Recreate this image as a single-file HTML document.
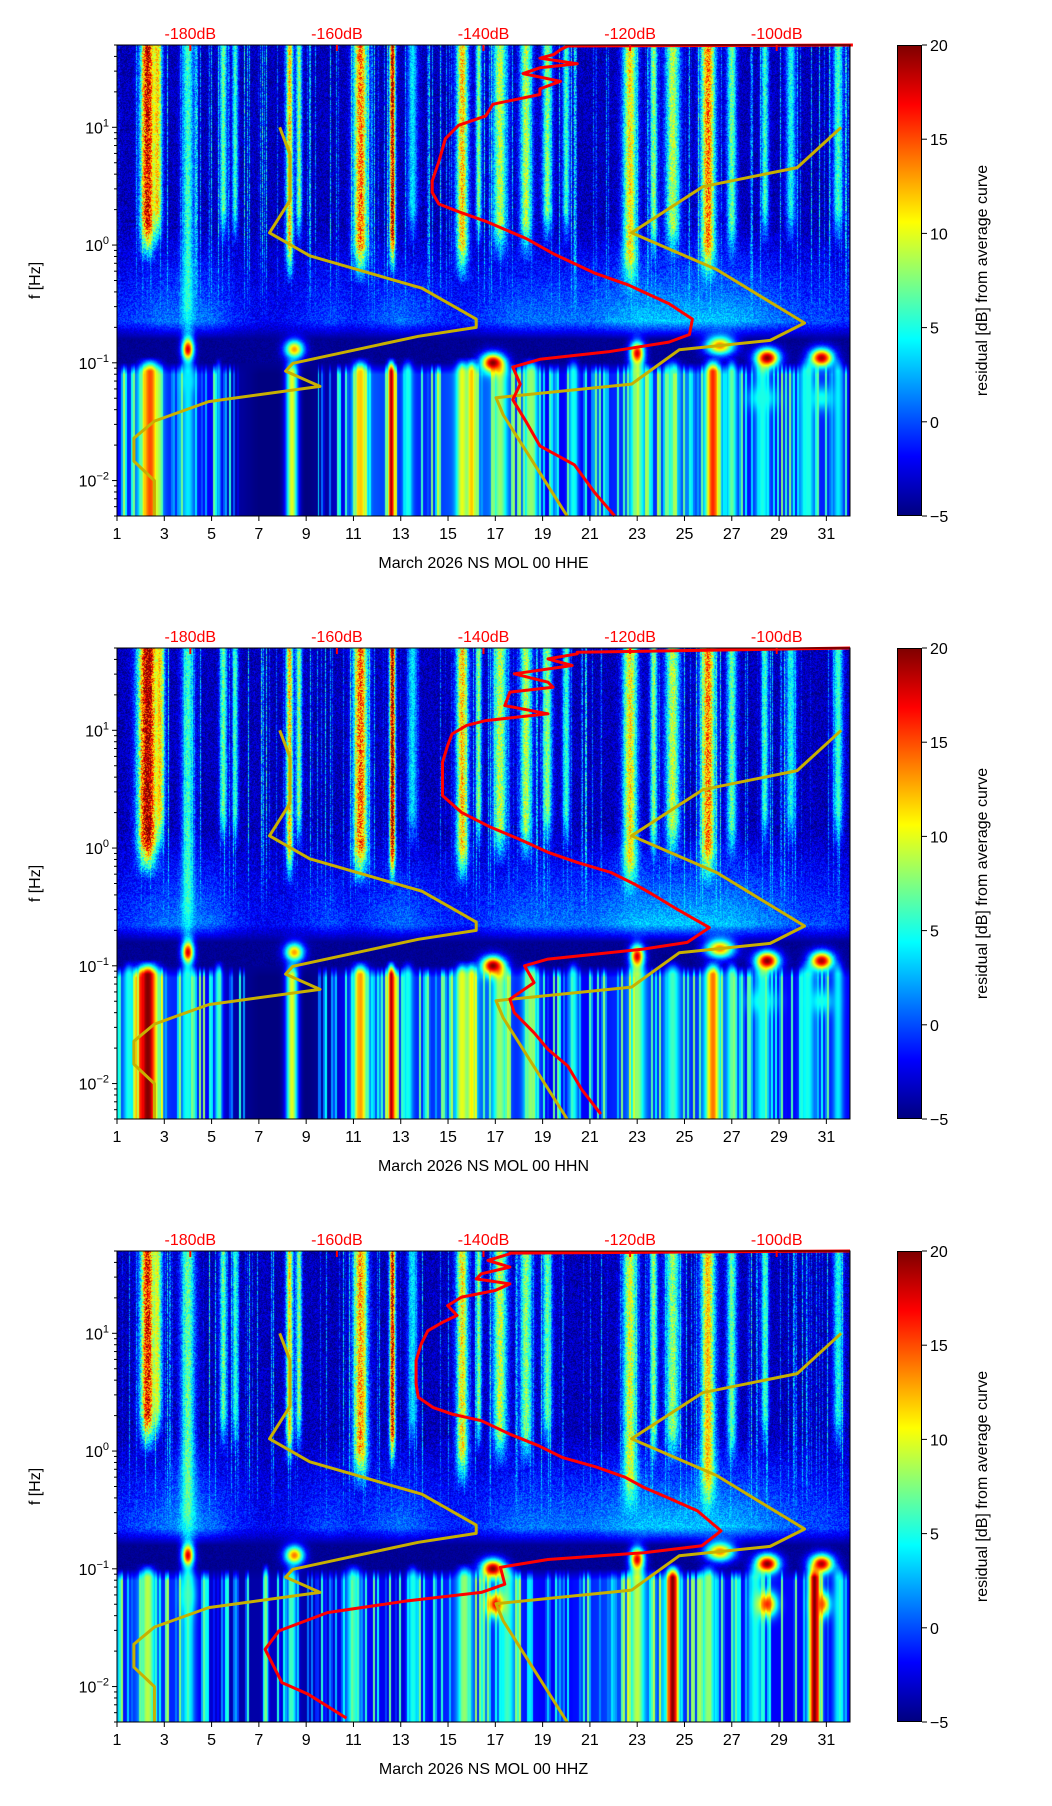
<!DOCTYPE html>
<html><head><meta charset="utf-8">
<style>
html,body{margin:0;padding:0;background:#fff;}
#root{position:relative;width:1052px;height:1806px;overflow:hidden;font-family:"Liberation Sans",sans-serif;}
canvas{position:absolute;}
.cbar{position:absolute;width:25px;height:471px;background:linear-gradient(to bottom,#800000 0%,#ff0000 12.5%,#ffff00 37.5%,#00ffff 62.5%,#0000ff 87.5%,#000080 100%);box-sizing:border-box;border:1px solid #000;}
svg{position:absolute;left:0;top:0;}
</style></head>
<body>
<div id="root">
<canvas id="c0" width="733" height="471" style="left:117px;top:45px"></canvas>
<canvas id="c1" width="733" height="471" style="left:117px;top:648px"></canvas>
<canvas id="c2" width="733" height="471" style="left:117px;top:1251px"></canvas>
<div class="cbar" style="left:897px;top:45px"></div>
<div class="cbar" style="left:897px;top:648px"></div>
<div class="cbar" style="left:897px;top:1251px"></div>
<svg id="ov" width="1052" height="1806"></svg>
</div>
<script>
// ---- data ----
const dayTicks=[1,3,5,7,9,11,13,15,17,19,21,23,25,27,29,31];
const dbTicks=[-180,-160,-140,-120,-100];
const cbTicks=[20,15,10,5,0,-5];
const channels=["HHE","HHN","HHZ"];
const nlnmF=[10,5.9,2.4,1.27,0.81,0.43,0.235,0.2,0.168,0.099,0.085,0.063,0.0468,0.032,0.0229,0.0146,0.01,0.005];
const nlnmDb=[-167.8,-166.4,-166.4,-169.2,-163.7,-148.4,-141,-141,-148.9,-166,-167,-162.3,-177.5,-184.9,-187.7,-187.7,-184.9,-184.9];
const nhnmF=[10,4.55,3.13,1.27,0.62,0.218,0.155,0.129,0.066,0.0505,0.036,0.005];
const nhnmDb=[-91.2,-97.2,-110.1,-119.8,-108.2,-96.2,-100.9,-113.3,-119.8,-138.3,-137.3,-128.6];
const red0F=[50,49,45.7,41.5,38.6,34.7,32,28.6,24.6,21.2,19,15.7,12.5,10.4,8,5.1,3.5,2.8,2.23,1.92,1.59,1.13,0.84,0.58,0.46,0.318,0.235,0.174,0.15,0.124,0.107,0.092,0.066,0.0486,0.031,0.0197,0.0136,0.008,0.005];
const red0Db=[-89.6,-128.5,-129.5,-130.4,-132.3,-127.2,-132.3,-134.6,-129.5,-132.3,-132.3,-138.7,-139.7,-143.4,-145.2,-146.1,-147,-147,-146.1,-143.4,-139.7,-134.1,-130.4,-124.9,-120.3,-114.7,-111.5,-111.9,-114.7,-123,-132.3,-136,-135,-136,-134.1,-132.3,-127.6,-124.9,-122.1];
const red1F=[50,46,44.6,40.4,35.5,30.2,25.6,23.2,21.1,16.2,13.8,12.1,11,9.3,7.4,5.35,3.86,2.79,2.01,1.5,1.19,0.92,0.755,0.62,0.494,0.42,0.3,0.211,0.158,0.139,0.114,0.1,0.072,0.052,0.04,0.027,0.0195,0.0141,0.0089,0.0055];
const red1Db=[-90,-127.2,-127.2,-131.2,-127.9,-135.8,-131.2,-130.5,-136.4,-137.1,-131.2,-139.7,-142.3,-144.3,-144.9,-145.6,-145.6,-145.6,-143,-139,-135.1,-131.2,-127.2,-122.6,-119.4,-117.4,-113.5,-109.2,-112.2,-118.1,-131.2,-134.4,-133.1,-136.4,-135.8,-133.1,-131.2,-128.5,-126.6,-124];
const red2F=[50,48,47.3,41.6,36.5,32,29,26.3,23.1,20.3,17.2,14.2,12.4,10.5,8.1,5.86,3.71,2.86,2.35,2.06,1.81,1.39,1.11,0.88,0.73,0.6,0.49,0.4,0.31,0.21,0.157,0.137,0.12,0.103,0.074,0.063,0.053,0.0425,0.0297,0.0207,0.0108,0.0086,0.0054];
const red2Db=[-90,-136.4,-136.4,-139.4,-136.4,-140.3,-141,-136.4,-138.4,-143,-144.9,-143.6,-145.6,-147.6,-148.5,-149.2,-149.2,-148.9,-146.9,-144.3,-140.3,-136.4,-132.5,-129.2,-124.6,-120.7,-118.1,-114.8,-110.8,-107.6,-110.2,-118.1,-131.2,-137.7,-137.1,-140.3,-150.8,-161.3,-167.9,-169.8,-167.5,-163.9,-158.7];
// spectrogram features: hf stripes [day,width,value,cutHz]
const hf0=[[2.3,0.3,18,1.5],[2.7,0.2,12,2],[4.0,0.25,6,0.3],[5.5,0.15,7,2],[6.0,0.12,6,2],[8.3,0.15,12,1],[8.7,0.12,8,2],[11.3,0.3,14,1],[12.65,0.12,19,1.2],[13.5,0.2,4,2],[15.6,0.25,12,1],[16.3,0.12,8,2],[17.2,0.3,9,1.5],[18.3,0.25,9,1.5],[19.2,0.2,8,2],[20.0,0.15,6,2],[22.7,0.3,11,0.8],[23.7,0.15,8,1.5],[24.5,0.3,9,1.5],[26.0,0.3,14,1.0],[27.0,0.2,7,1.5],[28.4,0.15,6,2],[29.5,0.2,5,2],[31.5,0.2,6,2]];
const hf1=[[2.3,0.4,20,1.2],[2.8,0.2,12,2],[4.0,0.25,6,0.3],[5.5,0.15,7,2],[6.0,0.12,6,2],[8.3,0.15,12,1],[8.7,0.12,8,2],[11.3,0.3,15,1],[12.65,0.12,20,1],[13.5,0.2,4,2],[15.6,0.25,12,1],[16.3,0.12,8,2],[17.2,0.3,9,1.5],[18.3,0.25,9,1.5],[19.2,0.2,8,2],[20.0,0.15,6,2],[22.7,0.3,11,0.8],[23.7,0.15,8,1.5],[24.5,0.3,9,1.5],[26.0,0.3,14,1.0],[27.0,0.2,7,1.5],[28.4,0.15,6,2],[29.5,0.2,5,2],[31.5,0.2,6,2]];
const hf2=[[2.3,0.3,17,2],[2.7,0.2,10,2.5],[4.0,0.3,7,0.3],[5.5,0.15,7,2],[6.0,0.12,6,2],[8.3,0.15,11,1.5],[8.7,0.12,8,2],[11.3,0.3,13,1],[12.65,0.12,18,1.5],[13.5,0.2,4,2],[15.6,0.25,11,1],[16.3,0.12,8,2],[17.2,0.3,9,1.5],[18.3,0.25,8,1.5],[19.2,0.2,7,2],[22.7,0.3,10,0.6],[23.7,0.15,8,1.5],[24.5,0.3,8,1.5],[26.0,0.3,12,0.6],[27.0,0.2,7,1.5],[28.4,0.15,6,2],[31.5,0.2,5,2]];
// lf stripes [day,width,value]
const lf0=[[2.4,0.4,15],[4.0,0.25,4],[5.3,0.1,3],[8.4,0.25,10],[11.3,0.3,12],[12.6,0.15,19],[13.3,0.2,5],[15.6,0.25,10],[16.0,0.2,12],[17.2,0.3,8],[18.5,0.3,8],[20.3,0.2,5],[23.0,0.3,8],[24.5,0.3,6],[26.2,0.3,16],[27.0,0.2,7],[28.3,0.3,5],[30.2,0.3,5],[31.5,0.2,4]];
const lf1=[[2.3,0.45,20],[1.5,0.2,5],[4.0,0.25,5],[5.3,0.15,6],[8.4,0.25,10],[11.3,0.3,13],[12.6,0.15,19],[13.3,0.2,5],[15.6,0.25,10],[16.0,0.2,11],[17.2,0.3,8],[18.5,0.3,8],[20.3,0.2,5],[23.0,0.3,8],[24.5,0.3,6],[26.2,0.3,14],[27.0,0.2,7],[28.3,0.3,5],[30.2,0.3,5],[31.5,0.2,4]];
const lf2=[[2.3,0.3,9],[4.0,0.25,5],[7.3,0.1,8],[8.4,0.2,6],[11.0,0.3,6],[13.5,0.2,5],[15.7,0.3,8],[17.5,0.3,6],[23.0,0.3,9],[24.5,0.25,20],[26.0,0.3,8],[28.0,0.3,5],[30.5,0.25,20],[31.5,0.2,4]];
// blobs [day,freqHz,value,dayWidth,decadeHeight]
const bl0=[[4.0,0.13,18,0.25,0.1],[8.5,0.13,13,0.4,0.08],[16.9,0.1,20,0.5,0.08],[23.0,0.12,18,0.3,0.1],[26.5,0.14,14,0.6,0.08],[28.5,0.11,20,0.5,0.08],[30.8,0.11,19,0.5,0.08],[28.3,0.05,5,0.6,0.1],[30.8,0.05,5,0.5,0.1],[4.0,0.07,4,0.3,0.1]];
const bl1=[[4.0,0.13,18,0.25,0.1],[8.5,0.13,13,0.4,0.08],[16.9,0.1,20,0.5,0.08],[23.0,0.12,18,0.3,0.1],[26.5,0.14,14,0.6,0.08],[28.5,0.11,20,0.5,0.08],[30.8,0.11,19,0.5,0.08],[28.3,0.05,5,0.6,0.1],[30.8,0.05,5,0.5,0.1]];
const bl2=[[4.0,0.13,18,0.25,0.1],[8.5,0.13,14,0.4,0.08],[16.9,0.1,20,0.5,0.08],[23.0,0.12,18,0.3,0.1],[26.5,0.14,14,0.6,0.08],[28.5,0.11,20,0.5,0.08],[30.8,0.11,19,0.5,0.08],[17.0,0.05,17,0.35,0.1],[28.5,0.05,16,0.4,0.1],[30.8,0.05,15,0.35,0.1],[4.0,0.06,6,0.3,0.15]];
// mid band (0.2-1.5 Hz) level per day 1..32
const mid0=[1,2,3,3,3,1,0,0,1,2,1,2,3,2,1,1,2,3,3,3,3,4,5,5,5,5,5,4,3,2,2,1];
const mid1=[1,2,3,3,3,1,0,0,1,2,1,2,3,2,1,1,2,3,3,3,3,4,5,5,5,5,5,4,3,2,2,1];
const mid2=[1,2,3,4,3,1,0,0,1,2,1,2,3,2,1,1,2,3,3,3,3,4,5,5,5,5,5,4,3,2,2,1];
// low band background level per day 1..32
const low0=[-2,0,-1,-1,-2,-4,-5,-5,-5,-4,-1,0,-1,-1,0,1,0,-1,-2,-2,-2,-1,0,-1,-1,0,-1,-2,-2,-2,-1,-2];
const low1=[-1,1,-1,-1,-2,-4,-5,-5,-5,-4,-1,0,-1,-1,0,1,0,-1,-2,-2,-2,-1,0,-1,-1,0,-1,-2,-2,-2,-1,-2];
const low2=[-2,0,-1,-1,-3,-4,-4,-3,-4,-3,-2,-2,-3,-2,-1,-1,-1,-1,-2,-2,-1,0,0,0,-1,-1,-2,-2,-2,-2,-2,-2];

const panels=[
 {top:45,hf:hf0,lf:lf0,bl:bl0,mid:mid0,low:low0,rF:red0F,rDb:red0Db},
 {top:648,hf:hf1,lf:lf1,bl:bl1,mid:mid1,low:low1,rF:red1F,rDb:red1Db},
 {top:1251,hf:hf2,lf:lf2,bl:bl2,mid:mid2,low:low2,rF:red2F,rDb:red2Db}];

const L=117,W=733,H=471,LFMAX=Math.log10(50),LFMIN=Math.log10(0.005);
function xDay(d){return (d-1)/31*W;}
function xDb(db){return (db+190)/100*W;}
function yF(f){return H*(LFMAX-Math.log10(f))/(LFMAX-LFMIN);}
function cl(v){return v<0?0:v>1?1:v;}
function jet(t){return [cl(1.5-Math.abs(4*t-3)),cl(1.5-Math.abs(4*t-2)),cl(1.5-Math.abs(4*t-1))];}
function hash(i,j){let h=(i*374761393+j*668265263)|0;h=(h^(h>>>13))*1274126177|0;return ((h^(h>>>16))>>>0)/4294967296;}
function arrAt(a,d){const i=Math.max(0,Math.min(a.length-1.001,d-1));const k=Math.floor(i),t=i-k;return a[k]*(1-t)+a[Math.min(a.length-1,k+1)]*t;}

function render(idx){
 const P=panels[idx];
 const cv=document.getElementById('c'+idx),ctx=cv.getContext('2d');
 const img=ctx.createImageData(W,H),D=img.data;
 for(let j=0;j<H;j++){
  const lf=LFMAX-(j+0.5)/H*(LFMAX-LFMIN);
  for(let i=0;i<W;i++){
   const d=1+(i+0.5)/W*31;
   const n=hash(i+idx*1000,j);
   const cn=hash(i+idx*1000,99991);
   const cn2=hash(Math.floor(i/2)+idx*1000,55555);
   let v;
   let vh=-3.6+(n-0.5)*3.5;
   if(cn>0.8)vh+=(cn-0.8)*40*(0.6+0.6*n);
   const vm=arrAt(P.mid,d)-2+(n-0.5)*3;
   let vl=arrAt(P.low,d);
   if(vl>-4.5&&cn2>0.55)vl+=(cn2-0.55)*22;
   if(lf>0.15)v=vh;
   else if(lf>-0.65){const t=(0.15-lf)/0.8;v=vh*(1-t)+vm*t;}
   else if(lf>-0.8){const t=(-0.65-lf)/0.15;v=vm*(1-t)+(-4.5)*t;}
   else if(lf>-1.0)v=-4.5+(n-0.5);
   else if(lf>-1.1){const t=(-1.0-lf)/0.1;v=-4.5*(1-t)+vl*t;}
   else v=vl;
   for(const s of P.hf){
    const w=cl((lf-Math.log10(s[3]))/0.35+1);
    if(w<=0)continue;
    const g=Math.exp(-Math.pow((d-s[0])/s[1],2))*w;
    const c=v+(s[2]-v)*g*(0.75+0.5*n);
    if(c>v)v=c;
   }
   if(lf<-0.95){
    const w=cl((-0.95-lf)/0.12);
    for(const s of P.lf){
     const g=Math.exp(-Math.pow((d-s[0])/s[1],2))*w;
     const c=v+(s[2]-v)*g;
     if(c>v)v=c;
    }
   }
   for(const b of P.bl){
    const g=Math.exp(-Math.pow((d-b[0])/b[3],2)-Math.pow((lf-Math.log10(b[1]))/b[4],2));
    const c=v+(b[2]-v)*g;
    if(c>v)v=c;
   }
   const col=jet(cl((v+5)/25));
   const k=(j*W+i)*4;
   D[k]=col[0]*255;D[k+1]=col[1]*255;D[k+2]=col[2]*255;D[k+3]=255;
  }
 }
 ctx.putImageData(img,0,0);
}
const NS='http://www.w3.org/2000/svg';
const ov=document.getElementById('ov');
function mk(tag,attrs,parent){const e=document.createElementNS(NS,tag);for(const k in attrs)e.setAttribute(k,attrs[k]);(parent||ov).appendChild(e);return e;}
function line(fs,dbs,color,top,name){
 let p='';for(let i=0;i<fs.length;i++){p+=(i?'L':'M')+(L+xDb(dbs[i])).toFixed(1)+','+(top+yF(fs[i])).toFixed(1);}
 const e=mk('path',{d:p,fill:'none',stroke:color,'stroke-width':3,'stroke-linejoin':'round'});
 
 
 return e;
}
panels.forEach((P,idx)=>{
 render(idx);
 const top=P.top;
 line(nlnmF,nlnmDb,'#c8b000',top,'nlnm-curve');
 line(nhnmF,nhnmDb,'#c8b000',top,'nhnm-curve');
 line(P.rF,P.rDb,'#ff0000',top,'psd-curve');
 const fr=mk('rect',{x:L,y:top,width:W,height:H,fill:'none',stroke:'#000','stroke-width':1});
 
 
 dayTicks.forEach(d=>{
  const x=L+xDay(d);
  mk('line',{x1:x,x2:x,y1:top+H,y2:top+H+5,stroke:'#000'});
  const t=mk('text',{x:x,y:top+H+23,'font-size':16,'text-anchor':'middle'});t.textContent=d;
  
  
 });
 dbTicks.forEach(db=>{
  const x=L+xDb(db);
  mk('line',{x1:x,x2:x,y1:top,y2:top+6,stroke:'#ff0000','stroke-width':2});
  const t=mk('text',{x:x,y:top-6,'font-size':16,'text-anchor':'middle',fill:'#ff0000'});t.textContent=db+'dB';
  
  
 });
 for(let k=-3;k<=1;k++){for(let m=1;m<=9;m++){const f=m*Math.pow(10,k);if(f<0.005||f>50)continue;const y=top+yF(f);
  mk('line',{x1:L-(m==1?5:3),x2:L,y1:y,y2:y,stroke:'#000'});
  if(m==1){const t=mk('text',{x:L-8,y:y+6,'font-size':16,'text-anchor':'end'});
   
   
   const a=mk('tspan',{},t);a.textContent='10';const b=mk('tspan',{dy:-7,'font-size':11},t);b.textContent=(k<0?'\u2212':'')+Math.abs(k);}
 }}
 const xl=mk('text',{x:L+W/2,y:top+H+52,'font-size':16,'text-anchor':'middle'});xl.textContent='March 2026 NS MOL 00 '+channels[idx];
 
 
 const yl=mk('text',{x:0,y:0,'font-size':16,'text-anchor':'middle',transform:'translate(40,'+(top+H/2)+') rotate(-90)'});yl.textContent='f [Hz]';
 
 
 cbTicks.forEach(v=>{
  const y=top+(20-v)/25*H;
  mk('line',{x1:922,x2:927,y1:y,y2:y,stroke:'#000'});
  const t=mk('text',{x:930,y:y+6,'font-size':16});t.textContent=v<0?'\u2212'+Math.abs(v):v;
  
  
 });
 const cl2=mk('text',{x:0,y:0,'font-size':16,'text-anchor':'middle',transform:'translate(987,'+(top+H/2)+') rotate(-90)'});cl2.textContent='residual [dB] from average curve';
 
 
});
</script>
</body></html>
